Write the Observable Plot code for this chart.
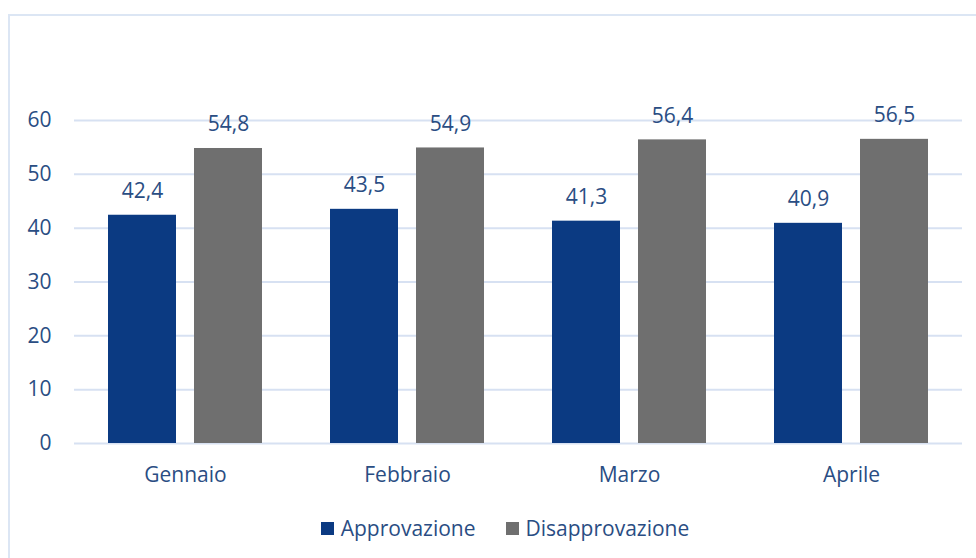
<!DOCTYPE html>
<html>
<head>
<meta charset="utf-8">
<script src="https://cdn.jsdelivr.net/npm/d3@7"></script>
<script src="https://cdn.jsdelivr.net/npm/@observablehq/plot@0.6"></script>
<style>
  html, body { margin: 0; padding: 0; background: #fff; overflow: hidden; width: 976px; height: 558px; }
  #frame { position: absolute; left: 8px; top: 14px; width: 1100px; height: 700px; border: 2px solid #dce6f4; box-sizing: border-box; }
  #chart { position: absolute; left: 0; top: 0; }
  #legend { position: absolute; left: 17px; top: 514px; width: 976px; display: flex; justify-content: center; gap: 30px;
            font-family: "Open Sans", sans-serif; font-size: 21px; color: #2a4d83; }
  #legend .item { display: flex; align-items: center; gap: 7px; }
  #legend .sw { width: 13px; height: 13px; display: inline-block; }
</style>
</head>
<body>
<div id="frame"></div>
<div id="chart"></div>
<div id="legend"></div>
<script>
const months = ["Gennaio", "Febbraio", "Marzo", "Aprile"];
const series = ["Approvazione", "Disapprovazione"];
const approvazione = [42.4, 43.5, 41.3, 40.9];
const disapprovazione = [54.8, 54.9, 56.4, 56.5];
const yTicks = [0, 10, 20, 30, 40, 50, 60];
const colors = ["#0b3a82", "#6f6f6f"];

const data = [];
months.forEach((m, i) => {
  data.push({month: m, series: series[0], value: approvazione[i]});
  data.push({month: m, series: series[1], value: disapprovazione[i]});
});
const fmt = v => v.toFixed(1).replace(".", ",");
const textColor = "#2a4d83";

const chart = Plot.plot({
  width: 976,
  height: 500,
  marginLeft: 73,
  marginRight: 14,
  marginTop: 120,
  marginBottom: 57,
  style: {fontFamily: "'Open Sans', sans-serif", fontSize: "21px", color: textColor, background: "transparent", overflow: "visible"},
  fx: {domain: months, padding: 0, label: null},
  x: {domain: series, paddingInner: 0.21, paddingOuter: 0.395, axis: null},
  y: {domain: [0, 60], label: null},
  color: {domain: series, range: colors},
  marks: [
    Plot.gridY(yTicks, {stroke: "#d7e1f2", strokeOpacity: 1, strokeWidth: 2}),
    Plot.axisY(yTicks, {tickSize: 0, tickPadding: 23, fontSize: 21, label: null}),
    Plot.axisFx({anchor: "bottom", tickSize: 0, tickPadding: 24, fontSize: 21, label: null}),
    Plot.barY(data, {fx: "month", x: "series", y: "value", fill: "series"}),
    Plot.text(data, {fx: "month", x: "series", y: "value", text: d => fmt(d.value), lineAnchor: "bottom", dy: -17, fill: textColor, fontSize: 21})
  ]
});
document.getElementById("chart").appendChild(chart);

const legend = document.getElementById("legend");
series.forEach((s, i) => {
  const item = document.createElement("div");
  item.className = "item";
  const sw = document.createElement("span");
  sw.className = "sw";
  sw.style.background = colors[i];
  const t = document.createElement("span");
  t.textContent = s;
  item.appendChild(sw);
  item.appendChild(t);
  legend.appendChild(item);
});
</script>
</body>
</html>
